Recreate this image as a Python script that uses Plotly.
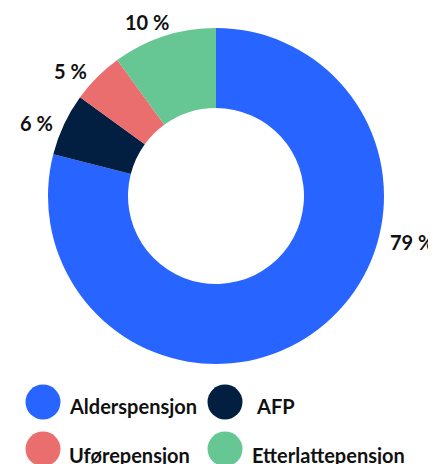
import plotly.graph_objects as go

categories = ["Alderspensjon", "AFP", "Uførepensjon", "Etterlattepensjon"]
values = [79, 6, 5, 10]
colors = ["#2864FF", "#021E40", "#EB6E6E", "#66C795"]

W, H = 436, 464
FONT = "Lato"
OFF = 8  # page body margin

# label anchor positions (screen pixels) for the slice labels
label_pos = [(412, 242), (36, 123), (70, 71), (147, 22)]
# legend grid positions (screen pixels)
leg_pos = [(43, 402), (225, 402), (43, 449), (225, 449)]
leg_text_dx = [24, 29, 24, 25]
leg_text_dy = [4, 4, 6, 6]

cx, cy, r = 216 - OFF, 196 - OFF, 168

fig = go.Figure()
fig.add_trace(go.Pie(
    labels=categories, values=values,
    marker=dict(colors=colors, line=dict(width=0)),
    hole=88 / 168, sort=False, direction="clockwise", rotation=0,
    textinfo="none", hoverinfo="label+percent", showlegend=False,
    domain=dict(x=[(cx - r) / W, (cx + r) / W], y=[1 - (cy + r) / H, 1 - (cy - r) / H]),
))

fig.add_trace(go.Scatter(
    x=[p[0] - OFF for p in leg_pos], y=[p[1] - OFF for p in leg_pos],
    mode="markers", marker=dict(size=35, color=colors, line=dict(width=0)),
    text=categories, hoverinfo="text", showlegend=False,
))

annotations = []
for (x, y), v in zip(label_pos, values):
    annotations.append(dict(x=x - OFF, y=y - OFF, xref="x", yref="y", text=f"{v} %", showarrow=False,
                            xanchor="center", yanchor="middle",
                            font=dict(family=FONT, size=20, color="#111111", weight="bold")))
for (x, y), c, dx, dy in zip(leg_pos, categories, leg_text_dx, leg_text_dy):
    annotations.append(dict(x=x + dx - OFF, y=y + dy - OFF, xref="x", yref="y", text=c, showarrow=False,
                            xanchor="left", yanchor="middle",
                            font=dict(family=FONT, size=20, color="#111111", weight="bold")))

fig.update_layout(
    width=W, height=H, margin=dict(l=0, r=0, t=0, b=0),
    paper_bgcolor="white", plot_bgcolor="rgba(0,0,0,0)",
    xaxis=dict(range=[0, W], domain=[0, 1], visible=False, fixedrange=True),
    yaxis=dict(range=[H, 0], domain=[0, 1], visible=False, fixedrange=True),
    annotations=annotations, showlegend=False,
)

fig.write_html("out.html")
